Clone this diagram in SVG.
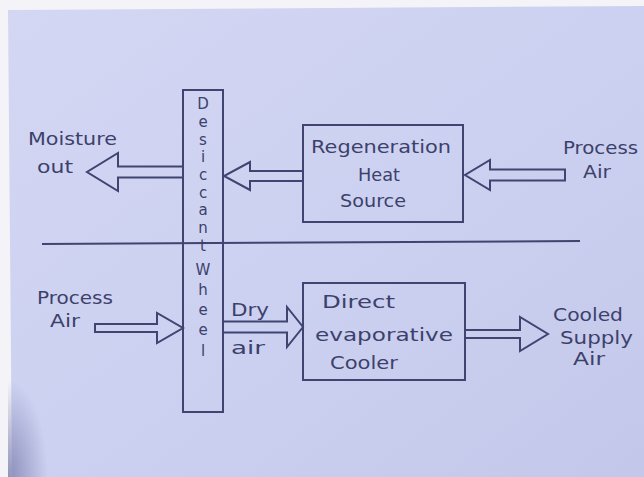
<svg xmlns="http://www.w3.org/2000/svg" width="644" height="477" viewBox="0 0 644 477">
<defs>
<linearGradient id="paper" x1="0" y1="0" x2="1" y2="1">
<stop offset="0" stop-color="#d3d7f3"/>
<stop offset="0.5" stop-color="#cdd1f1"/>
<stop offset="1" stop-color="#c3c8ea"/>
</linearGradient>
<radialGradient id="shade" cx="0" cy="1" r="1">
<stop offset="0" stop-color="#7f83b0" stop-opacity="0.85"/>
<stop offset="1" stop-color="#7f83b0" stop-opacity="0"/>
</radialGradient>
<style>
.ln{fill:none;stroke:#3f4470;stroke-width:2;stroke-linejoin:miter}
.tx{font-family:"DejaVu Sans","Liberation Sans",sans-serif;font-size:17px;fill:#3c416b}
.vt{font-family:"DejaVu Sans","Liberation Sans",sans-serif;font-size:15px;fill:#3c416b;text-anchor:middle}
</style>
</defs>
<rect x="0" y="0" width="644" height="477" fill="#f4f4f8"/>
<polygon points="8,10 644,6 644,477 12,477" fill="url(#paper)"/>
<rect x="8" y="380" width="40" height="97" fill="url(#shade)"/>
<line class="ln" x1="42" y1="244" x2="580" y2="241"/>
<g id="desiccant-wheel">
<rect class="ln" x="183" y="90" width="40" height="322"/>
<text class="vt" x="203" y="109">D</text>
<text class="vt" x="203" y="127">e</text>
<text class="vt" x="203" y="145">s</text>
<text class="vt" x="203" y="162">i</text>
<text class="vt" x="203" y="180">c</text>
<text class="vt" x="203" y="198">c</text>
<text class="vt" x="203" y="215">a</text>
<text class="vt" x="203" y="233">n</text>
<text class="vt" x="203" y="251">t</text>
<text class="vt" x="203" y="275">W</text>
<text class="vt" x="203" y="295">h</text>
<text class="vt" x="203" y="315">e</text>
<text class="vt" x="203" y="335">e</text>
<text class="vt" x="203" y="356">l</text>
</g>
<g id="regeneration-heat-source">
<rect class="ln" x="303" y="125" width="160" height="97"/>
<text class="tx" x="311" y="153" textLength="140" lengthAdjust="spacingAndGlyphs">Regeneration</text>
<text class="tx" x="358" y="181" textLength="42" lengthAdjust="spacingAndGlyphs">Heat</text>
<text class="tx" x="340" y="207" textLength="66" lengthAdjust="spacingAndGlyphs">Source</text>
</g>
<g id="direct-evaporative-cooler">
<rect class="ln" x="303" y="283" width="162" height="97"/>
<text class="tx" x="322" y="308" textLength="73" lengthAdjust="spacingAndGlyphs">Direct</text>
<text class="tx" x="315" y="341" textLength="138" lengthAdjust="spacingAndGlyphs">evaporative</text>
<text class="tx" x="330" y="369" textLength="68" lengthAdjust="spacingAndGlyphs">Cooler</text>
</g>
<g id="moisture-out">
<text class="tx" x="28" y="145" textLength="89" lengthAdjust="spacingAndGlyphs">Moisture</text>
<text class="tx" x="37" y="173" textLength="36" lengthAdjust="spacingAndGlyphs">out</text>
</g>
<g id="process-air-top">
<text class="tx" x="563" y="154" textLength="75" lengthAdjust="spacingAndGlyphs">Process</text>
<text class="tx" x="583" y="178" textLength="28" lengthAdjust="spacingAndGlyphs">Air</text>
</g>
<g id="process-air-bottom">
<text class="tx" x="37" y="304" textLength="76" lengthAdjust="spacingAndGlyphs">Process</text>
<text class="tx" x="50" y="327" textLength="30" lengthAdjust="spacingAndGlyphs">Air</text>
</g>
<g id="cooled-supply-air">
<text class="tx" x="553" y="321" textLength="70" lengthAdjust="spacingAndGlyphs">Cooled</text>
<text class="tx" x="560" y="344" textLength="73" lengthAdjust="spacingAndGlyphs">Supply</text>
<text class="tx" x="573" y="365" textLength="32" lengthAdjust="spacingAndGlyphs">Air</text>
</g>
<g id="connectors">
<polygon class="ln" points="565,169.5 490,169.5 490,160 465,175 490,190 490,180.5 565,180.5"/>
<polygon class="ln" points="303,171 250,171 250,162 224,176 250,190 250,181 303,181"/>
<polygon class="ln" points="183,166.5 118,166.5 118,153 87,172 118,191 118,177.5 183,177.5"/>
<polygon class="ln" points="95,324 157,324 157,313 183,328 157,343 157,332 95,332"/>
<polygon class="ln" points="223,321.5 287,321.5 287,307 303,327 287,347 287,332.5 223,332.5"/>
<polygon class="ln" points="465,330 520,330 520,317 548,334 520,351 520,338 465,338"/>
<text class="tx" x="231" y="316" textLength="38" lengthAdjust="spacingAndGlyphs">Dry</text>
<text class="tx" x="231" y="354" textLength="34" lengthAdjust="spacingAndGlyphs">air</text>
</g>
</svg>
